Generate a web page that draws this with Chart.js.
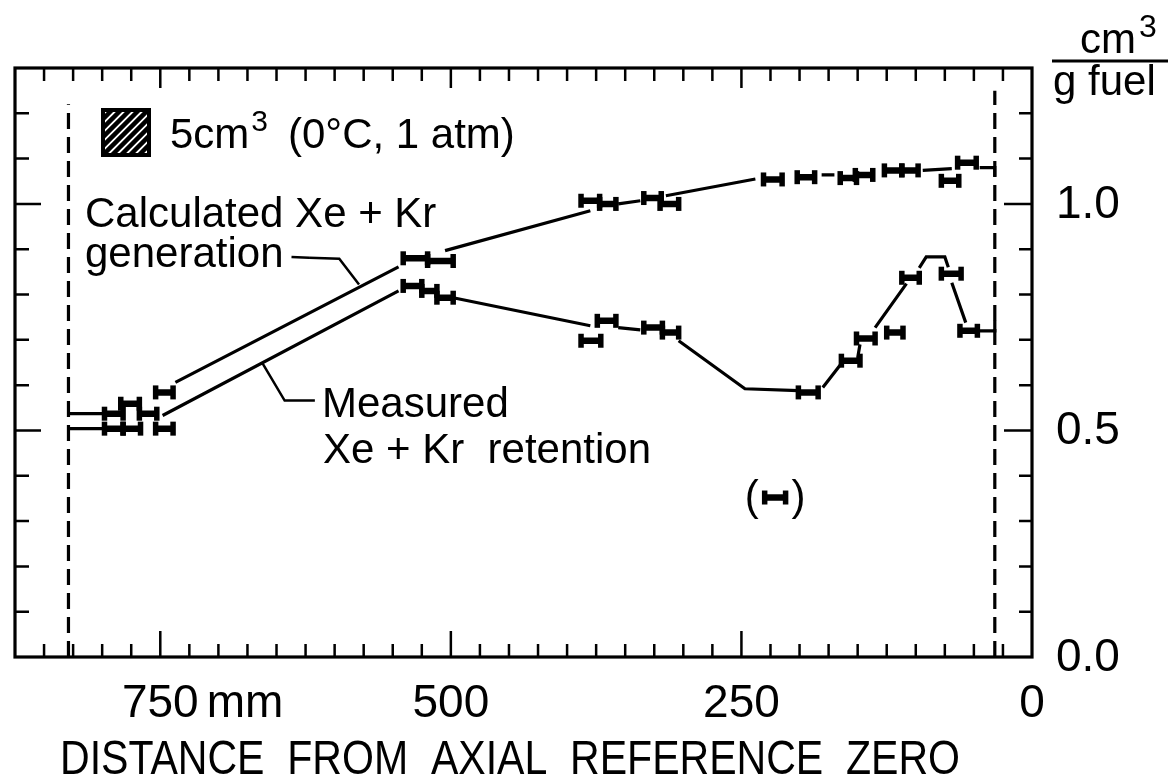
<!DOCTYPE html>
<html>
<head>
<meta charset="utf-8">
<script src="https://cdn.jsdelivr.net/npm/chart.js@4/dist/chart.umd.min.js"></script>
<style>
  html, body { margin: 0; padding: 0; background: #fff; }
  canvas { display: block; }
</style>
</head>
<body>
<canvas id="chart" width="1174" height="780" style="width:1174px;height:780px"></canvas>
<script>
// axial distance in mm (axis runs from 875 down to 0), values in cm3 / g fuel
const xTickValues = [750, 500, 250, 0];
const xTickLabels = ['750', '500', '250', '0'];
const yTickValues = [0, 0.5, 1.0];
const yTickLabels = ['0.0', '0.5', '1.0'];

// sample segments (horizontal bars): from / to in mm, value
const calcBarFrom  = [798, 784, 768, 754, 541, 520, 388, 372, 334, 320, 231, 202, 165, 152, 127, 112, 78, 64];
const calcBarTo    = [782, 768, 753, 739, 520, 498, 372, 358, 319, 304, 215, 187, 151, 137, 112, 98, 63, 48];
const calcBarValue = [0.537, 0.559, 0.537, 0.584, 0.880, 0.874, 1.007, 1.000, 1.013, 1.000, 1.054, 1.059, 1.057, 1.064, 1.074, 1.074, 1.051, 1.091];

const measBarFrom  = [798, 782, 754, 541, 525, 512, 374, 388, 334, 318, 201, 164, 151, 125, 112, 78, 62];
const measBarTo    = [782, 767, 739, 525, 512, 498, 358, 371, 318, 304, 184, 148, 135, 111, 97, 61, 47];
const measBarValue = [0.504, 0.504, 0.504, 0.819, 0.808, 0.793, 0.742, 0.698, 0.727, 0.716, 0.584, 0.654, 0.703, 0.716, 0.837, 0.846, 0.720];

// connecting curves, null = pen lifted
const calcTraceX = [829, 800, null, 737, 545, null, 505, 380, null, 356, 337, null, 315, 238, null, 181, 170, null, 94, 69, null, 45, 32, 32];
const calcTraceY = [0.537, 0.537, null, 0.606, 0.861, null, 0.897, 0.985, null, 1.000, 1.007, null, 1.018, 1.055, null, 1.064, 1.064, null, 1.074, 1.078, null, 1.080, 1.080, 1.060];

const measTraceX = [829, 800, null, 748, 545, null, 498, 380, null, 356, 337, null, 304, 247, 201, null, 180, 164, null, 150, 148, null, 135, 108, null, 97, 91, 75, 72, null, 69, 57, null, 46, 32, 32];
const measTraceY = [0.504, 0.504, null, 0.533, 0.808, null, 0.793, 0.731, null, 0.727, 0.722, null, 0.698, 0.592, 0.588, null, 0.595, 0.648, null, 0.660, 0.690, null, 0.727, 0.824, null, 0.859, 0.883, 0.883, 0.860, null, 0.826, 0.738, null, 0.720, 0.720, 0.742];

// fuel stack ends (dashed) and the 5 cm3 key segment
const stackEnds = [829, 32];
const stackTop = [1.22, 1.25];
const keyBarFrom = [230], keyBarTo = [212], keyBarValue = [0.352];

const FONT = '"Liberation Sans", Arial, sans-serif';

function trace(xs, ys) {
  return xs.map((x, i) => ({ x: x === null ? xs[i - 1] : x, y: ys[i] }));
}
function bars(from, to, vals) {
  const out = [];
  from.forEach((f, i) => {
    out.push({ x: f, y: vals[i] }, { x: to[i], y: vals[i] }, { x: to[i], y: null });
  });
  return out;
}

const lineStyle = { borderColor: '#000', borderWidth: 3.2, pointRadius: 0, tension: 0, spanGaps: false, fill: false };
const barStyle = {
  borderColor: '#000', borderWidth: 6.5, spanGaps: false, fill: false,
  pointStyle: 'line', rotation: 90, pointRadius: 7, pointBorderWidth: 5.5,
  pointBorderColor: '#000', pointBackgroundColor: '#000', pointHoverRadius: 7
};

const datasets = [
  Object.assign({ label: 'calc trace', data: trace(calcTraceX, calcTraceY) }, lineStyle),
  Object.assign({ label: 'meas trace', data: trace(measTraceX, measTraceY) }, lineStyle),
  Object.assign({ label: 'calc bars', data: bars(calcBarFrom, calcBarTo, calcBarValue) }, barStyle),
  Object.assign({ label: 'meas bars', data: bars(measBarFrom, measBarTo, measBarValue) }, barStyle),
  Object.assign({ label: 'key', data: bars(keyBarFrom, keyBarTo, keyBarValue) }, barStyle)
];
stackEnds.forEach((x, i) => {
  datasets.push(Object.assign({ label: 'end' + i, data: [{ x: x, y: 0 }, { x: x, y: stackTop[i] }], borderDash: [16, 8] }, lineStyle));
});

// leader lines for the two text labels (in data units)
const calcLeaderX = [622, 596, 579], calcLeaderY = [0.881, 0.879, 0.822];
const measLeaderX = [662, 643, 617], measLeaderY = [0.648, 0.566, 0.566];
datasets.push(Object.assign({ label: 'lead1', data: trace(calcLeaderX, calcLeaderY) }, lineStyle, { borderWidth: 2.5 }));
datasets.push(Object.assign({ label: 'lead2', data: trace(measLeaderX, measLeaderY) }, lineStyle, { borderWidth: 2.5 }));

const frame = {
  id: 'frame',
  afterDraw(chart) {
    const ctx = chart.ctx, a = chart.chartArea;
    const xs = chart.scales.x, ys = chart.scales.y;
    ctx.save();
    ctx.strokeStyle = '#000';
    ctx.fillStyle = '#000';
    ctx.lineWidth = 3.2;
    ctx.strokeRect(a.left, a.top, a.right - a.left, a.bottom - a.top);

    // inward ticks
    ctx.lineWidth = 2.5;
    ctx.beginPath();
    for (let v = 25; v < 875; v += 25) {
      const px = xs.getPixelForValue(v);
      const major = v % 250 === 0;
      ctx.moveTo(px, a.bottom); ctx.lineTo(px, a.bottom - (major ? 26 : 13));
      ctx.moveTo(px, a.top); ctx.lineTo(px, a.top + (major ? 20 : 13));
    }
    for (let k = 1; k <= 12; k++) {
      const v = k / 10;
      const py = ys.getPixelForValue(v);
      const major = k === 5 || k === 10;
      ctx.moveTo(a.left, py); ctx.lineTo(a.left + (major ? 26 : 14), py);
      ctx.moveTo(a.right, py); ctx.lineTo(a.right - (major ? 28 : 13), py);
    }
    ctx.stroke();

    // tick labels
    ctx.font = '46px ' + FONT;
    ctx.textBaseline = 'alphabetic';
    ctx.textAlign = 'center';
    xTickValues.forEach((v, i) => {
      const px = xs.getPixelForValue(v);
      ctx.fillText(xTickLabels[i], px, 717);
      if (i === 0) {
        ctx.textAlign = 'left';
        ctx.fillText('mm', px + ctx.measureText(xTickLabels[i]).width / 2 + 8, 717);
        ctx.textAlign = 'center';
      }
    });
    ctx.textAlign = 'left';
    ctx.textBaseline = 'middle';
    yTickValues.forEach((v, i) => {
      ctx.fillText(yTickLabels[i], a.right + 24, ys.getPixelForValue(v) + 1);
    });

    // axis title
    ctx.textBaseline = 'alphabetic';
    ctx.textAlign = 'center';
    ctx.font = '48px ' + FONT;
    ctx.fillText('DISTANCE  FROM  AXIAL  REFERENCE  ZERO', 510, 774, 900);

    // unit
    ctx.font = '42px ' + FONT;
    ctx.textAlign = 'left';
    ctx.fillText('cm', 1080, 53);
    ctx.font = '32px ' + FONT;
    ctx.fillText('3', 1139, 37);
    ctx.lineWidth = 3;
    ctx.beginPath(); ctx.moveTo(1052, 61); ctx.lineTo(1168, 61); ctx.stroke();
    ctx.font = '42px ' + FONT;
    ctx.fillText('g fuel', 1053, 95, 114);

    // hatched key square
    const bx = 103, by = 110, bw = 46, bh = 45;
    ctx.save();
    ctx.beginPath(); ctx.rect(bx, by, bw, bh); ctx.clip();
    ctx.lineWidth = 4.5;
    ctx.beginPath();
    for (let d = -bh; d < bw + bh; d += 9) {
      ctx.moveTo(bx + d, by + bh); ctx.lineTo(bx + d + bh, by);
    }
    ctx.stroke();
    ctx.restore();
    ctx.lineWidth = 4;
    ctx.strokeRect(bx, by, bw, bh);

    ctx.font = '42px ' + FONT;
    ctx.fillText('5cm', 170, 148);
    let w = ctx.measureText('5cm').width;
    ctx.font = '30px ' + FONT;
    ctx.fillText('3', 170 + w + 2, 131);
    ctx.font = '42px ' + FONT;
    ctx.fillText('(0\u00B0C, 1 atm)', 288, 148);

    ctx.fillText('Calculated Xe + Kr', 85, 227);
    ctx.fillText('generation', 85, 267);
    ctx.lineWidth = 2.5;
    ctx.beginPath();
    ctx.moveTo(85 + ctx.measureText('generation').width + 8, 257);
    ctx.lineTo(xs.getPixelForValue(calcLeaderX[0]), ys.getPixelForValue(calcLeaderY[0]));
    ctx.stroke();
    ctx.fillText('Measured', 322, 417);
    ctx.fillText('Xe + Kr  retention', 323, 463);

    // key parentheses around the 5 cm3 segment
    const k1 = xs.getPixelForValue(keyBarFrom[0]), k2 = xs.getPixelForValue(keyBarTo[0]);
    const ky = ys.getPixelForValue(keyBarValue[0]);
    ctx.textBaseline = 'middle';
    ctx.textAlign = 'right';
    ctx.fillText('(', k1 - 6, ky + 1);
    ctx.textAlign = 'left';
    ctx.fillText(')', k2 + 6, ky + 1);
    ctx.restore();
  }
};

new Chart(document.getElementById('chart').getContext('2d'), {
  type: 'line',
  data: { datasets: datasets },
  options: {
    responsive: false,
    devicePixelRatio: 1,
    animation: false,
    layout: { padding: { left: 15, right: 142, top: 68, bottom: 123 } },
    scales: {
      x: { type: 'linear', min: 0, max: 875, reverse: true, display: false },
      y: { type: 'linear', min: 0, max: 1.3, display: false }
    },
    plugins: { legend: { display: false }, tooltip: { enabled: false } },
    elements: { line: { borderCapStyle: 'butt' } }
  },
  plugins: [frame]
});
</script>
</body>
</html>
